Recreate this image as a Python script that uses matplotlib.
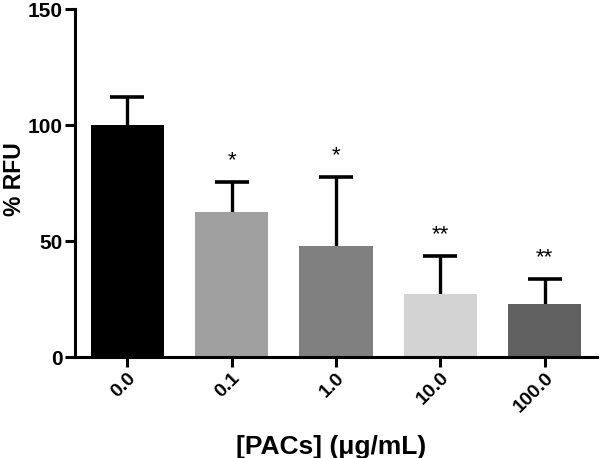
import matplotlib
matplotlib.use("Agg")
import matplotlib.pyplot as plt

categories = ["0.0", "0.1", "1.0", "10.0", "100.0"]
values = [100, 62.5, 47.8, 27.2, 22.8]
errors = [12, 13, 29.8, 16.3, 10.8]
stars = ["", "*", "*", "**", "**"]
colors = ["#000000", "#a0a0a0", "#808080", "#d3d3d3", "#606060"]
yticks = [0, 50, 100, 150]

plt.rcParams['font.family'] = ['Liberation Sans', 'DejaVu Sans']
plt.rcParams['font.weight'] = 'bold'

fig = plt.figure(figsize=(6, 4.58), dpi=100)
ax = fig.add_axes([0.125, 0.2205, 0.87, 0.7595])
x = list(range(len(categories)))
ax.bar(x, values, width=0.7, color=colors, zorder=2)
tops = [v + e for v, e in zip(values, errors)]
ax.vlines(x, values, tops, color='black', linewidth=2.4, zorder=1)
ax.plot(x, tops, linestyle='none', marker='_', markersize=25, markeredgewidth=2.6,
        color='black', zorder=1)
for xi, t, s in zip(x, tops, stars):
    if s:
        ax.annotate(s, (xi, t), xytext=(0, 8), textcoords='offset points',
                    ha='center', va='bottom', fontsize=16, fontweight='normal')

ax.set_xlim(-0.5, 4.5)
ax.set_ylim(0, 150)
ax.set_yticks(yticks)
ax.set_yticklabels([str(t) for t in yticks], fontsize=15, fontweight='bold')
ax.set_xticks(x)
ax.set_xticklabels(categories, rotation=45, ha='right', rotation_mode='anchor',
                   fontsize=14, fontweight='bold')
for sp in ['top', 'right']:
    ax.spines[sp].set_visible(False)
for sp in ['left', 'bottom']:
    ax.spines[sp].set_linewidth(2.2)
ax.tick_params(axis='both', width=2.2, length=7, direction='out', pad=2)
ax.set_ylabel("% RFU", fontsize=16.5, fontweight='bold')
ax.yaxis.set_label_coords(-0.093, 0.51)
ax.set_xlabel("[PACs] (\u03bcg/mL)", fontsize=19, fontweight='bold')
ax.xaxis.set_label_coords(0.49, -0.225)
fig.savefig("out.png", dpi=100)
